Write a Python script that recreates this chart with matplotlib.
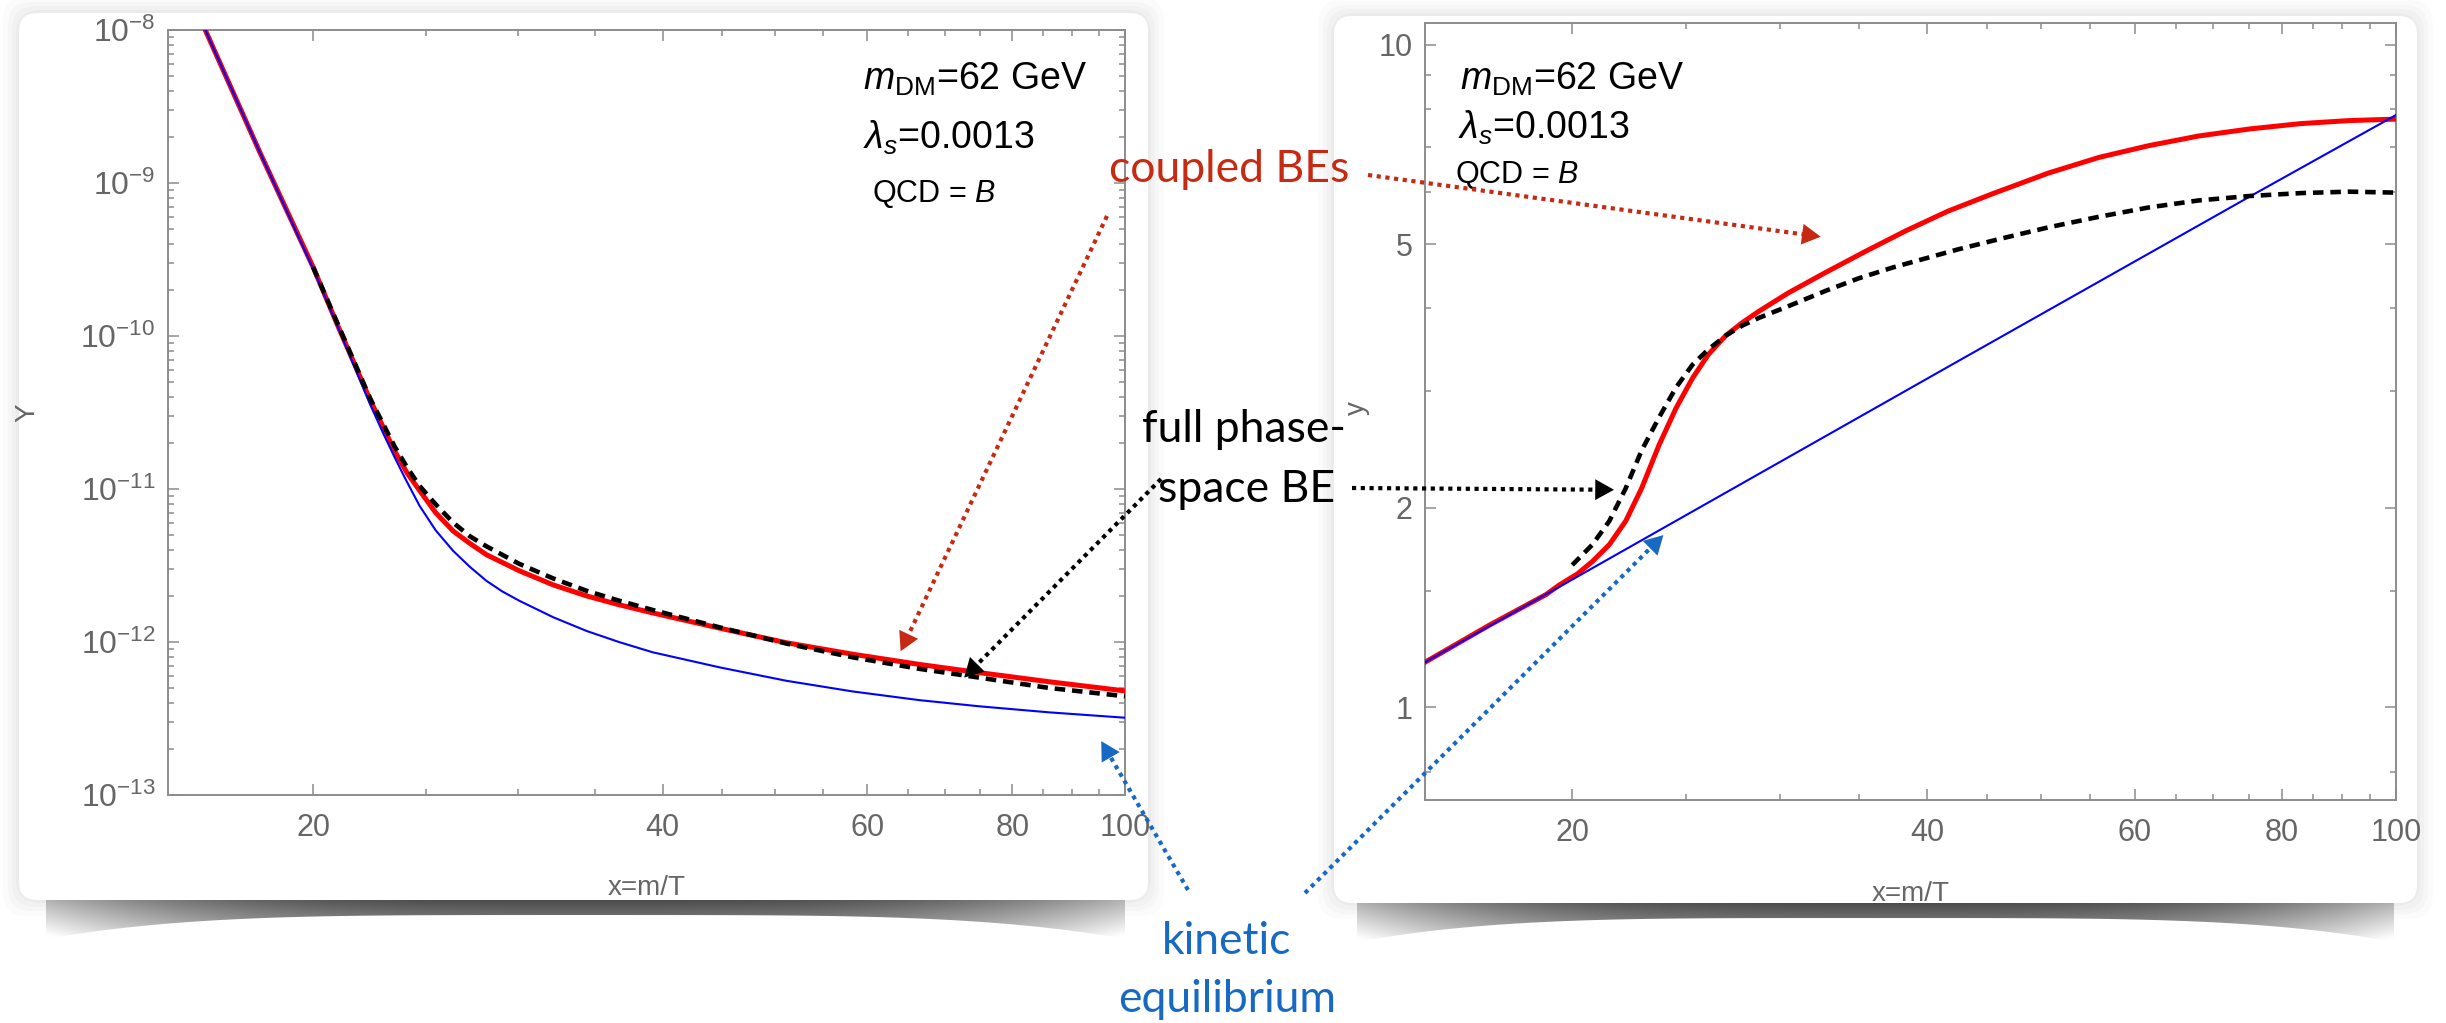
import numpy as np
import matplotlib
matplotlib.use("Agg")
import matplotlib.pyplot as plt
from matplotlib.patches import FancyBboxPatch, Polygon
from matplotlib.ticker import FixedLocator, NullFormatter, LogLocator

plt.rcParams['font.family'] = ['Liberation Sans', 'DejaVu Sans']
plt.rcParams['mathtext.fontset'] = 'custom'
plt.rcParams['mathtext.rm'] = 'Liberation Sans'
plt.rcParams['mathtext.it'] = 'Liberation Sans:italic'

# ---------------- data ----------------
# left panel: Y vs x = m/T
x_red_l = [15, 16.15, 18, 20, 21, 22.4, 23.5, 24.1, 24.7, 25.5, 26.4, 27.3, 28.2,
           30.1, 32.2, 34.4, 36.7, 39.2, 44.8, 51.1, 58.3, 66.5, 74.9, 86, 100]
Y_red_l = [3.55e-8, 1.0e-8, 1.58e-9, 2.82e-10, 1.17e-10, 3.80e-11, 1.78e-11,
           1.27e-11, 9.77e-12, 7.0e-12, 5.31e-12, 4.40e-12, 3.72e-12, 2.92e-12,
           2.36e-12, 2.0e-12, 1.75e-12, 1.55e-12, 1.23e-12, 9.89e-13, 8.32e-13,
           7.14e-13, 6.31e-13, 5.50e-13, 4.79e-13]

x_blue_l = [15, 16.15, 18, 20, 21, 22.4, 23.0, 23.5, 24.0, 24.7, 25.5, 26.4, 27.3,
            28.2, 29.1, 30.1, 32.2, 34.4, 36.7, 39.2, 44.8, 51.1, 58.3, 66.5,
            74.9, 86, 100]
Y_blue_l = [3.55e-8, 1.0e-8, 1.58e-9, 2.75e-10, 1.15e-10, 3.55e-11, 2.28e-11,
            1.62e-11, 1.175e-11, 7.76e-12, 5.37e-12, 3.94e-12, 3.09e-12, 2.51e-12,
            2.14e-12, 1.86e-12, 1.45e-12, 1.18e-12, 9.98e-13, 8.57e-13, 6.82e-13,
            5.58e-13, 4.75e-13, 4.17e-13, 3.80e-13, 3.47e-13, 3.20e-13]

x_blk_l = [20, 21, 22.4, 23.5, 24.1, 24.7, 25.5, 26.4, 27.3, 28.2, 30.1, 32.2,
           34.4, 36.7, 39.2, 44.8, 51.1, 58.3, 66.5, 74.9, 86, 100]
Y_blk_l = [2.82e-10, 1.20e-10, 3.89e-11, 1.905e-11, 1.38e-11, 1.047e-11, 7.94e-12,
           6.03e-12, 4.90e-12, 4.22e-12, 3.24e-12, 2.60e-12, 2.16e-12, 1.86e-12,
           1.62e-12, 1.245e-12, 9.77e-13, 7.94e-13, 6.68e-13, 5.85e-13, 5.01e-13,
           4.42e-13]

# right panel: y vs x = m/T
x_red_r = [15, 17, 19, 19.5, 20.2, 20.8, 21.5, 22.2, 22.9, 23.7, 24.5, 25.3, 26.1,
           27.0, 27.9, 28.8, 30.5, 32.8, 35.5, 38.4, 41.7, 45.5, 50.7, 56, 61.7,
           68, 75.1, 83, 91.2, 100]
y_red_r = [1.17, 1.33, 1.48, 1.53, 1.59, 1.66, 1.76, 1.91, 2.14, 2.49, 2.83, 3.14,
           3.41, 3.64, 3.81, 3.96, 4.22, 4.53, 4.88, 5.24, 5.61, 5.96, 6.40, 6.76,
           7.04, 7.28, 7.46, 7.60, 7.68, 7.72]

x_blk_r = [20.0, 20.8, 21.5, 22.2, 22.9, 23.7, 24.5, 25.3, 26.1, 27.0, 27.9, 28.8,
           30.5, 32.8, 35.0, 37.4, 42.5, 46.5, 50.7, 56, 61.7, 68, 75.1, 83,
           91.2, 100]
y_blk_r = [1.64, 1.76, 1.91, 2.14, 2.44, 2.74, 3.04, 3.29, 3.47, 3.64, 3.77, 3.87,
           4.03, 4.25, 4.44, 4.61, 4.91, 5.11, 5.30, 5.50, 5.68, 5.82, 5.91, 5.97,
           6.00, 5.98]

x_blue_r = [15, 19.5, 42.5, 75.8, 100]
y_blue_r = [1.17, 1.52, 3.33, 5.95, 7.83]

x_major = [20, 40, 60, 80, 100]
x_minor = [25, 30, 35, 45, 50, 55, 65, 70, 75, 85, 90, 95]
y_major_r = [1, 2, 5, 10]
y_minor_r = [0.8, 1.5, 3, 4, 6, 7, 8, 9]

# arrow tips in data coordinates (left panel / right panel)
tips_left = {'red': (64.1, 8.7e-13), 'black': (72.7, 5.85e-13), 'blue': (95.4, 2.25e-13)}
tips_right = {'red': (32.5, 5.13), 'black': (21.7, 2.13), 'blue': (23.9, 1.82)}

RED_TXT = '#c62a12'
BLUE_TXT = '#1769c2'

# ---------------- figure ----------------
W, H = 2446, 1023
fig = plt.figure(figsize=(W / 100, H / 100), dpi=100, facecolor='white')

# background: paper cards with halo and curled shadow
bg = fig.add_axes([0, 0, 1, 1], zorder=-5)
bg.axis('off')


def card(x0, y0, x1, y1):
    for pad, a in [(16, 0.015), (11, 0.018), (7, 0.02), (3, 0.025)]:
        bg.add_patch(FancyBboxPatch((x0 - pad, y0 - pad), x1 - x0 + 2 * pad, y1 - y0 + 2 * pad,
                                    boxstyle='round,pad=0,rounding_size=24',
                                    fc='black', ec='none', alpha=a, zorder=1))
    bg.add_patch(FancyBboxPatch((x0, y0), x1 - x0, y1 - y0,
                                boxstyle='round,pad=0,rounding_size=18',
                                fc='white', ec='none', zorder=3))


def shadow(x0, x1, ytop):
    u = np.linspace(0, 1, 200)
    xs = x0 + (x1 - x0) * u
    yb = ytop + 22 + 24 * (2 * u - 1) ** 4
    verts = list(zip(xs, np.full(u.size, ytop))) + list(zip(xs[::-1], yb[::-1]))
    poly = Polygon(verts, closed=True, fc='none', ec='none')
    bg.add_patch(poly)
    gx, gy = np.meshgrid(np.linspace(0, 1, 300), np.linspace(0, 1, 60))
    val = 0.24 + 0.40 * np.abs(2 * gx - 1) ** 3 + 0.42 * gy
    im = bg.imshow(val, cmap='gray', vmin=0, vmax=1, extent=(x0, x1, ytop + 50, ytop),
                   aspect='auto', interpolation='bilinear', zorder=2)
    im.set_clip_path(poly)


shadow(46, 1125, 893)
shadow(1357, 2394, 896)
card(19, 13, 1148, 900)
card(1334, 16, 2417, 903)
bg.set_xlim(0, W)
bg.set_ylim(H, 0)

# ---------------- panels ----------------
axL = fig.add_axes([168 / W, 1 - 795 / H, 957 / W, 765 / H], zorder=1)
axR = fig.add_axes([1425 / W, 1 - 800 / H, 971 / W, 777 / H], zorder=1)


def style(ax):
    ax.set_facecolor('white')
    for s in ax.spines.values():
        s.set_color('#8c8c8c')
        s.set_linewidth(1.4)
    ax.set_xscale('log')
    ax.set_yscale('log')
    ax.set_xlim(15, 100)
    ax.xaxis.set_major_locator(FixedLocator(x_major))
    ax.xaxis.set_minor_locator(FixedLocator(x_minor))
    ax.xaxis.set_major_formatter(plt.FixedFormatter([str(v) for v in x_major]))
    ax.xaxis.set_minor_formatter(NullFormatter())
    ax.tick_params(which='both', direction='in', top=True, right=True,
                   color='#8c8c8c', labelcolor='#666666', labelsize=22, width=1.1)
    ax.tick_params(which='major', length=8)
    ax.tick_params(which='minor', length=4.5)
    ax.tick_params(axis='x', which='both', pad=13)
    ax.tick_params(axis='y', which='both', pad=9)
    ax.text(0.5, -0.121, 'x=m/T', transform=ax.transAxes, ha='center', va='center',
            fontsize=20, color='#666666')


style(axL)
style(axR)

# left panel
axL.set_ylim(1e-13, 1e-8)
axL.yaxis.set_major_locator(LogLocator(base=10, numticks=10))
axL.yaxis.set_minor_locator(LogLocator(base=10, subs=np.arange(2, 10), numticks=100))
axL.yaxis.set_minor_formatter(NullFormatter())
axL.tick_params(axis='y', labelsize=23)
axL.plot(x_red_l, Y_red_l, color='#ff0000', lw=3.6, zorder=3, solid_joinstyle='round')
axL.plot(x_blue_l, Y_blue_l, color='#0000ff', lw=1.5, zorder=4, solid_joinstyle='round')
axL.plot(x_blk_l, Y_blk_l, color='black', lw=3.3, ls=(0, (2.3, 1.5)), zorder=5)
axL.text(-0.147, 0.50, 'Y', transform=axL.transAxes, rotation=90, ha='center',
         va='center', fontsize=20, color='#666666')
axL.text(0.726, 0.936, r'$m_{\rm DM}$=62 GeV', transform=axL.transAxes,
         fontsize=27, va='center', ha='left')
axL.text(0.726, 0.859, r'$\lambda_s$=0.0013', transform=axL.transAxes,
         fontsize=27, va='center', ha='left')
axL.text(0.736, 0.786, r'QCD = $B$', transform=axL.transAxes,
         fontsize=22, va='center', ha='left')

# right panel
axR.set_ylim(0.725, 10.78)
axR.yaxis.set_major_locator(FixedLocator(y_major_r))
axR.yaxis.set_minor_locator(FixedLocator(y_minor_r))
axR.yaxis.set_major_formatter(plt.FixedFormatter([str(v) for v in y_major_r]))
axR.yaxis.set_minor_formatter(NullFormatter())
axR.plot(x_red_r, y_red_r, color='#ff0000', lw=3.6, zorder=3, solid_joinstyle='round')
axR.plot(x_blue_r, y_blue_r, color='#0000ff', lw=1.5, zorder=4)
axR.plot(x_blk_r, y_blk_r, color='black', lw=3.3, ls=(0, (2.3, 1.5)), zorder=5)
axR.text(-0.070, 0.505, 'y', transform=axR.transAxes, rotation=90, ha='center',
         va='center', fontsize=20, color='#666666')
axR.text(0.036, 0.927, r'$m_{\rm DM}$=62 GeV', transform=axR.transAxes,
         fontsize=27, va='center', ha='left')
axR.text(0.034, 0.865, r'$\lambda_s$=0.0013', transform=axR.transAxes,
         fontsize=27, va='center', ha='left')
axR.text(0.031, 0.804, r'QCD = $B$', transform=axR.transAxes,
         fontsize=22, va='center', ha='left')

# ---------------- overlay: labels and dotted arrows ----------------
ov = fig.add_axes([0, 0, 1, 1], zorder=10)
ov.axis('off')
ov.patch.set_alpha(0)
ov.set_xlim(0, W)
ov.set_ylim(H, 0)


def to_px(ax, pt):
    return ov.transData.inverted().transform(ax.transData.transform(pt))


def arrow(tail, tip, color):
    tail = np.asarray(tail, float)
    tip = np.asarray(tip, float)
    d = tip - tail
    d /= np.hypot(*d)
    base = tip - d * 14
    ov.plot([tail[0], base[0]], [tail[1], base[1]], color=color, lw=3,
            ls=(0, (1, 1.1)), solid_capstyle='butt')
    ov.annotate('', xy=tip, xytext=tip - d * 30,
                arrowprops=dict(arrowstyle='-|>,head_length=0.45,head_width=0.25',
                                color=color, lw=0, mutation_scale=30,
                                shrinkA=0, shrinkB=0))


lato = ['Lato', 'DejaVu Sans']
ov.text(1229, 170, 'coupled BEs', color=RED_TXT, fontsize=32, family=lato,
        ha='center', va='center')
ov.text(1244, 430, 'full phase-', color='black', fontsize=32, family=lato,
        ha='center', va='center')
ov.text(1247, 490, 'space BE', color='black', fontsize=32, family=lato,
        ha='center', va='center')
ov.text(1227, 942, 'kinetic', color=BLUE_TXT, fontsize=32, family=lato,
        ha='center', va='center')
ov.text(1227, 1000, 'equilibrium', color=BLUE_TXT, fontsize=32, family=lato,
        ha='center', va='center')

arrow((1107, 216), to_px(axL, tips_left['red']), RED_TXT)
arrow((1368, 175), to_px(axR, tips_right['red']), RED_TXT)
arrow((1161, 479), to_px(axL, tips_left['black']), 'black')
arrow((1352, 488), to_px(axR, tips_right['black']), 'black')
arrow((1188, 890), to_px(axL, tips_left['blue']), BLUE_TXT)
arrow((1305, 893), to_px(axR, tips_right['blue']), BLUE_TXT)

fig.savefig('out.png', dpi=100, facecolor=fig.get_facecolor())
